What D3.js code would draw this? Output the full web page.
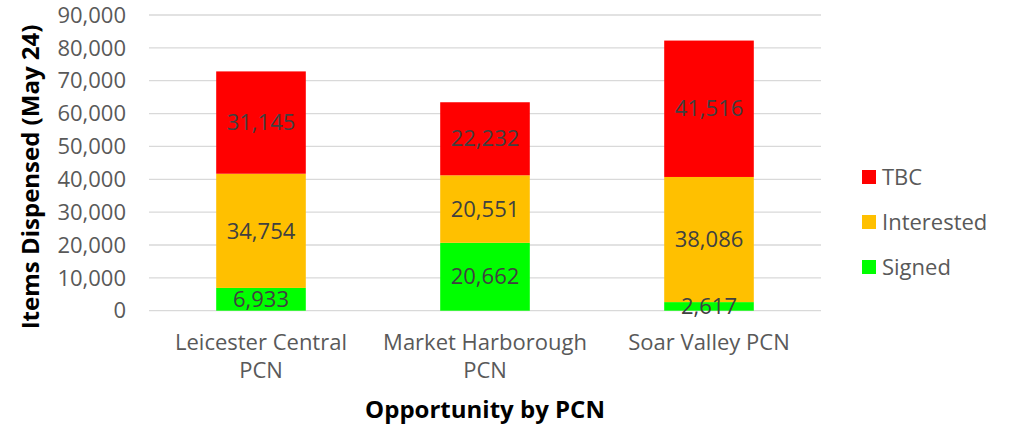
<!DOCTYPE html>
<html>
<head>
<meta charset="utf-8">
<script src="https://cdn.jsdelivr.net/npm/d3@7"></script>
<style>
  body { margin: 0; background: #fff; }
  text { font-family: "Open Sans", "Noto Sans", sans-serif; }
</style>
</head>
<body>
<div class="chart"></div>
<script>
var categories = [["Leicester Central", "PCN"], ["Market Harborough", "PCN"], ["Soar Valley PCN"]]
var names = ["Leicester Central PCN", "Market Harborough PCN", "Soar Valley PCN"]
var signed = [6933, 20662, 2617]
var interested = [34754, 20551, 38086]
var tbc = [31145, 22232, 41516]
var seriesNames = ["Signed", "Interested", "TBC"]
var seriesColors = ["#00ff00", "#ffc000", "#ff0000"]
var yTicks = [0, 10000, 20000, 30000, 40000, 50000, 60000, 70000, 80000, 90000]

var svg = d3.select(".chart").append("svg").attr("width", 1017).attr("height", 426)

var rows = names.map((n, i) => ({name: n, Signed: signed[i], Interested: interested[i], TBC: tbc[i]}))
var stacked = d3.stack().keys(seriesNames)(rows)

var x = d3.scaleBand().domain(names).range([149, 821]).paddingInner(0.6).paddingOuter(0.3)
var y = d3.scaleLinear().domain([0, 90000]).range([310.7, 15])

// gridlines
svg.append("g").selectAll("line").data(yTicks).enter().append("line")
  .attr("x1", 149).attr("x2", 821)
  .attr("y1", d => y(d)).attr("y2", d => y(d))
  .style("stroke", "#d9d9d9").style("stroke-width", 1.3)

// y tick labels
svg.append("g").selectAll("text").data(yTicks).enter().append("text")
  .attr("x", 126).attr("y", d => y(d)).attr("dy", "0.35em")
  .attr("text-anchor", "end")
  .text(d => d3.format(",")(d))
  .style("font-size", "22px").style("fill", "#595959")

// bars
var layers = svg.append("g").selectAll("g").data(stacked).enter().append("g")
  .style("fill", (d, i) => seriesColors[i])
layers.selectAll("rect").data(d => d).enter().append("rect")
  .attr("x", d => x(d.data.name))
  .attr("width", x.bandwidth())
  .attr("y", d => y(d[1]))
  .attr("height", d => y(d[0]) - y(d[1]))

// data labels
svg.append("g").selectAll("g").data(stacked).enter().append("g")
  .selectAll("text").data(d => d).enter().append("text")
  .attr("x", d => x(d.data.name) + x.bandwidth() / 2)
  .attr("y", d => (y(d[0]) + y(d[1])) / 2)
  .attr("dy", "0.35em")
  .attr("text-anchor", "middle")
  .text(d => d3.format(",")(d[1] - d[0]))
  .style("font-size", "22px").style("fill", "#404040")

// x category labels
svg.append("g").selectAll("text").data(categories).enter().append("text")
  .attr("x", (d, i) => x(names[i]) + x.bandwidth() / 2)
  .attr("y", 350)
  .attr("text-anchor", "middle")
  .style("font-size", "22px").style("fill", "#595959")
  .selectAll("tspan").data(d => d).enter().append("tspan")
  .attr("x", function() { return d3.select(this.parentNode).attr("x") })
  .attr("dy", (d, i) => i == 0 ? 0 : 28)
  .text(d => d)

// axis titles
svg.append("text").attr("x", 485).attr("y", 418).attr("text-anchor", "middle")
  .text("Opportunity by PCN").style("font-size", "24px").style("font-weight", "bold").style("fill", "#000")
svg.append("text").attr("transform", "translate(39,177) rotate(-90)").attr("text-anchor", "middle")
  .text("Items Dispensed (May 24)").style("font-size", "24px").style("font-weight", "bold").style("fill", "#000")

// legend
var legendOrder = [2, 1, 0]
var legendY = [177, 222, 267]
legendOrder.forEach((s, i) => {
  svg.append("rect").attr("x", 862).attr("y", legendY[i] - 7).attr("width", 14).attr("height", 14).style("fill", seriesColors[s])
  svg.append("text").attr("x", 882).attr("y", legendY[i]).attr("dy", "0.35em")
    .text(seriesNames[s]).style("font-size", "22px").style("fill", "#595959")
})
</script>
</body>
</html>
